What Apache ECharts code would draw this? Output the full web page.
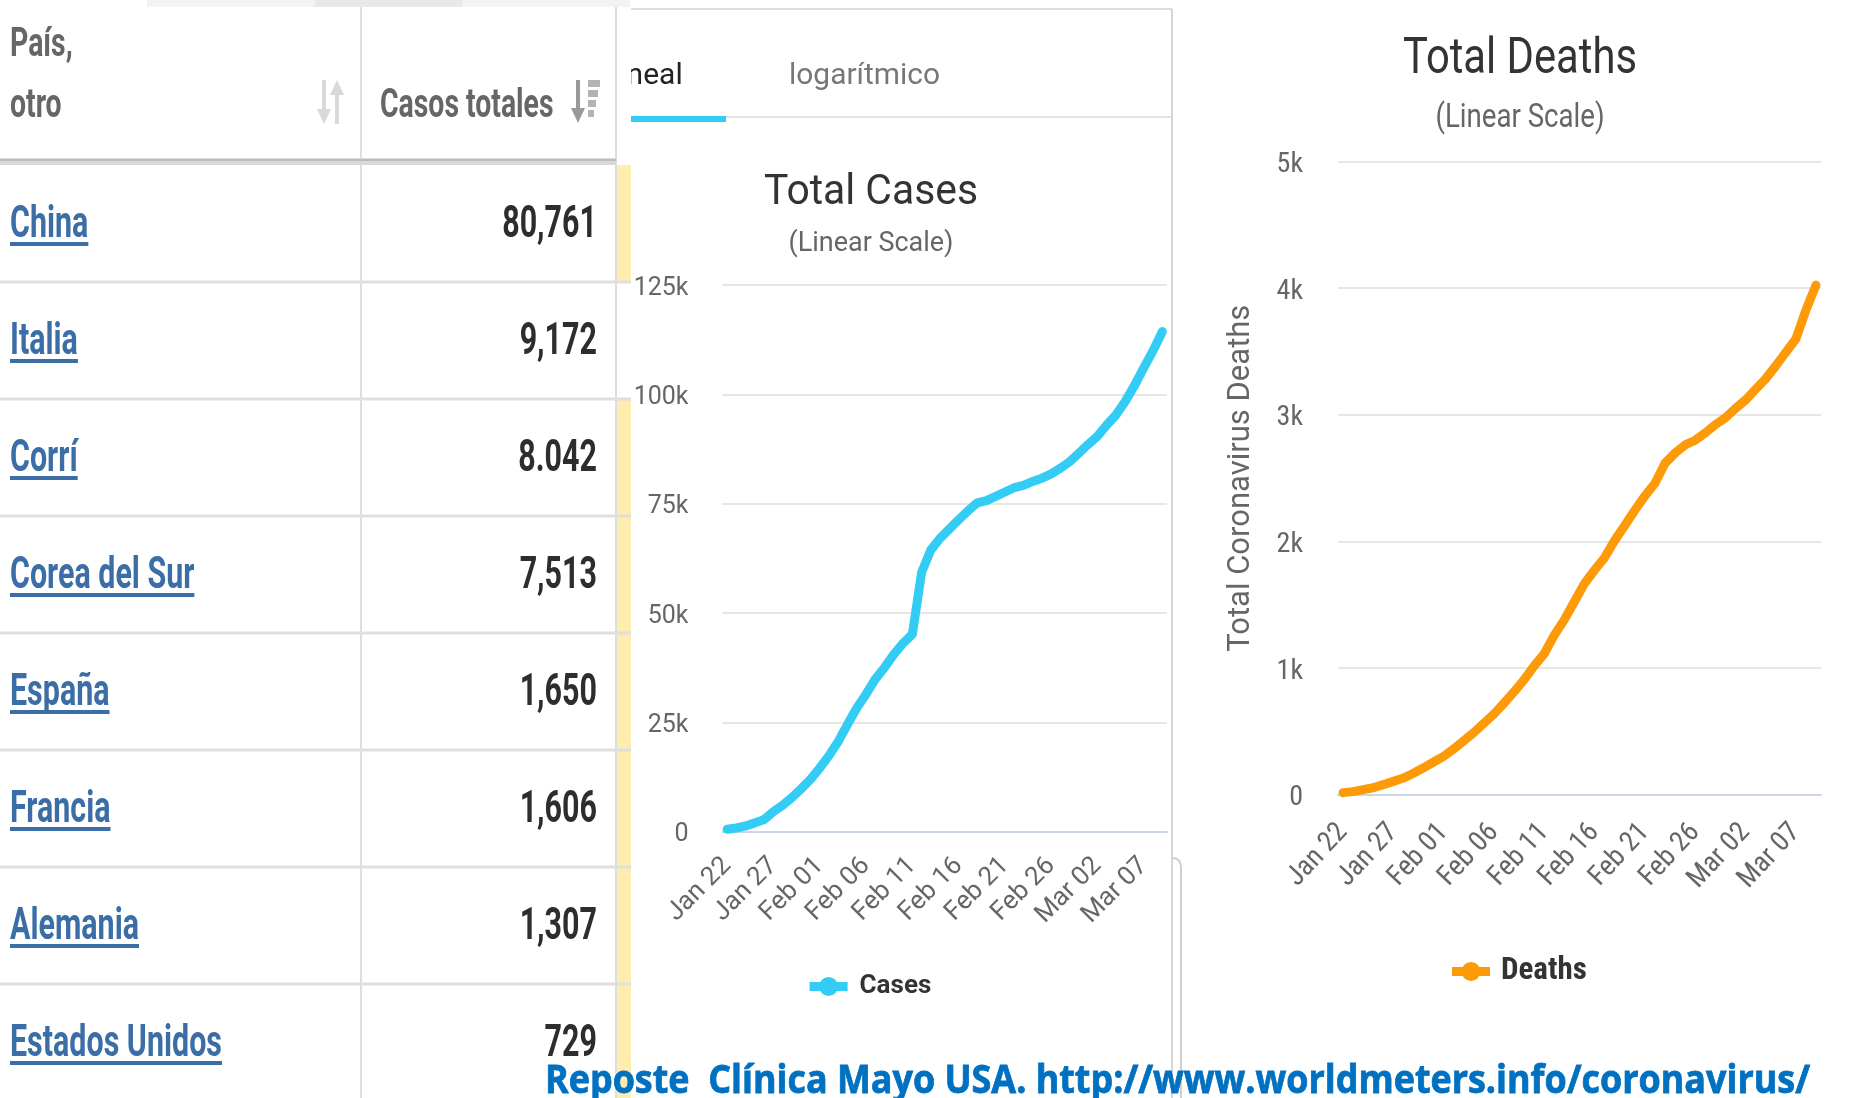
<!DOCTYPE html>
<html><head><meta charset="utf-8">
<script src="https://cdn.jsdelivr.net/npm/echarts@6/dist/echarts.min.js"></script>
<style>html,body{margin:0;padding:0;background:#fff}#c{width:1863px;height:1098px}</style>
</head><body><div id="c"></div>
<script>
// ---------- data ----------
const dates = ['Jan 22','Jan 23','Jan 24','Jan 25','Jan 26','Jan 27','Jan 28','Jan 29','Jan 30','Jan 31',
  'Feb 01','Feb 02','Feb 03','Feb 04','Feb 05','Feb 06','Feb 07','Feb 08','Feb 09','Feb 10',
  'Feb 11','Feb 12','Feb 13','Feb 14','Feb 15','Feb 16','Feb 17','Feb 18','Feb 19','Feb 20',
  'Feb 21','Feb 22','Feb 23','Feb 24','Feb 25','Feb 26','Feb 27','Feb 28','Feb 29',
  'Mar 01','Mar 02','Mar 03','Mar 04','Mar 05','Mar 06','Mar 07','Mar 08','Mar 09'];
const cases = [580,845,1317,2015,2800,4581,6058,7813,9823,11950,
  14553,17391,20630,24545,28266,31439,34876,37552,40553,43099,
  45134,59287,64438,67100,69197,71329,73332,75184,75700,76677,
  77673,78651,79205,80087,80828,81820,83112,84615,86604,
  88585,90443,93016,95314,98425,102050,106099,109991,114381];
const deaths = [17,25,41,56,80,106,132,170,213,259,
  304,362,426,492,565,638,724,813,910,1018,
  1115,1261,1383,1526,1669,1775,1873,2009,2126,2247,
  2360,2460,2618,2699,2763,2800,2858,2923,2977,
  3050,3117,3202,3285,3387,3494,3599,3827,4025];
const countries = ['China','Italia','Corrí','Corea del Sur','España','Francia','Alemania','Estados Unidos'];
const totalLabels = ['80,761','9,172','8.042','7,513','1,650','1,606','1,307','729'];
const yellowRows = [true,false,true,true,true,true,true,true];
const casesTicks = [0,25000,50000,75000,100000,125000];
const deathsTicks = [0,1000,2000,3000,4000,5000];
const footerText = 'Reposte  Clínica Mayo USA. http://www.worldmeters.info/coronavirus/';

// ---------- helpers ----------
const mctx = document.createElement('canvas').getContext('2d');
function textW(t, font){ mctx.font = font; return mctx.measureText(t).width; }
function fit(t, font, target){ return target / textW(t, font); }
function txt(o){
  const s = {text:o.text, font:o.font, fill:o.fill, align:o.align||'left', textAlign:o.align||'left',
    verticalAlign:'middle', textVerticalAlign:'middle', x:0, y:0};
  if (o.stroke) { s.stroke = o.stroke; s.lineWidth = o.lw || 1; }
  return {type:'text', x:o.x, y:o.y, scaleX:o.sx||1, scaleY:1, z:o.z||5, style:s, silent:true};
}
const kfmt = v => v === 0 ? '0' : (v/1000) + 'k';
const NARROW = "'Liberation Sans Narrow','Arial Narrow','Roboto Condensed',Roboto,sans-serif";
const DY = 2.5; // text baseline correction

// ---------- table graphics ----------
const G = [];
G.push(txt({text:'lineal', x:612, y:74+DY, font:'30px Roboto', fill:'#222', z:1}));
const lsx = fit('logarítmico','30px Roboto',151);
G.push(txt({text:'logarítmico', x:789, y:74+DY, font:'30px Roboto', fill:'#777', sx:lsx, z:1}));
G.push({type:'rect', shape:{x:631,y:116,width:95,height:6}, style:{fill:'#33CCF5'}, z:2, silent:true});
G.push({type:'line', shape:{x1:726,y1:117,x2:1172,y2:117}, style:{stroke:'#e3e3e3',lineWidth:2}, z:2, silent:true});
G.push({type:'line', shape:{x1:630,y1:9,x2:1172,y2:9}, style:{stroke:'#dcdcdc',lineWidth:2}, z:2, silent:true});
G.push({type:'line', shape:{x1:1172,y1:9,x2:1172,y2:1098}, style:{stroke:'#d6d6d6',lineWidth:2}, z:2, silent:true});
G.push({type:'polyline', shape:{points:[[1172,858],[1176,858.5],[1179,860.5],[1180.5,864],[1181,868],[1181,1098]]}, style:{stroke:'#cfcfcf',lineWidth:2,fill:null}, z:2, silent:true});
G.push({type:'rect', shape:{x:0,y:7,width:631,height:1091}, style:{fill:'#fff'}, z:3, silent:true});
G.push({type:'rect', shape:{x:147,y:0,width:483,height:7}, style:{fill:'#f3f3f3'}, z:3, silent:true});
G.push({type:'rect', shape:{x:315,y:0,width:147,height:7}, style:{fill:'#e8e8e8'}, z:3, silent:true});
const HB = 165, RH = 117;
countries.forEach((c,i)=>{
  if (yellowRows[i]) {
    const y0 = HB + RH*i, y1 = (i === countries.length-1) ? 1098 : HB + RH*(i+1);
    G.push({type:'rect', shape:{x:616,y:y0,width:15,height:y1-y0}, style:{fill:'#FFEDB0'}, z:4, silent:true});
  }
});
G.push({type:'line', shape:{x1:361,y1:7,x2:361,y2:1098}, style:{stroke:'#dedede',lineWidth:2}, z:4, silent:true});
G.push({type:'line', shape:{x1:616,y1:7,x2:616,y2:1098}, style:{stroke:'#dedede',lineWidth:2}, z:4, silent:true});
G.push({type:'rect', shape:{x:0,y:158,width:616,height:7}, style:{fill:'#d9d9d9'}, z:4, silent:true});
G.push({type:'line', shape:{x1:0,y1:160,x2:616,y2:160}, style:{stroke:'#bdbdbd',lineWidth:2}, z:4, silent:true});
for (let k=1;k<countries.length;k++){
  const y = HB + RH*k;
  G.push({type:'line', shape:{x1:0,y1:y,x2:631,y2:y}, style:{stroke:'#dfdfdf',lineWidth:3}, z:5, silent:true});
}
const HF = 'bold 40px Roboto';
const hsx = fit('Casos totales', HF, 173.5);
G.push(txt({text:'País,', x:10, y:43+DY, font:HF, fill:'#666', sx:hsx}));
G.push(txt({text:'otro', x:10, y:103+DY+1, font:HF, fill:'#666', sx:hsx}));
G.push(txt({text:'Casos totales', x:380, y:103+DY+1, font:HF, fill:'#666', sx:hsx}));
G.push({type:'rect', shape:{x:322,y:80,width:4,height:32}, style:{fill:'#d9d9d9'}, z:5, silent:true});
G.push({type:'polygon', shape:{points:[[317,109],[331,109],[324,124]]}, style:{fill:'#d9d9d9'}, z:5, silent:true});
G.push({type:'rect', shape:{x:335,y:92,width:4,height:32}, style:{fill:'#d9d9d9'}, z:5, silent:true});
G.push({type:'polygon', shape:{points:[[330,95],[344,95],[337,80]]}, style:{fill:'#d9d9d9'}, z:5, silent:true});
G.push({type:'rect', shape:{x:576,y:80,width:4,height:30}, style:{fill:'#999'}, z:5, silent:true});
G.push({type:'polygon', shape:{points:[[571,108],[585,108],[578,123]]}, style:{fill:'#999'}, z:5, silent:true});
[[12,80],[10,90],[8,100],[6,110]].forEach(b=>{
  G.push({type:'rect', shape:{x:588,y:b[1],width:b[0],height:7}, style:{fill:'#b3b3b3'}, z:5, silent:true});
});
const RF = 'bold 44px Roboto';
const rsx = fit('Estados Unidos', RF, 212);
countries.forEach((c,i)=>{
  const cy = HB + RH*(i+0.5) + DY;
  G.push(txt({text:c, x:10, y:cy, font:RF, fill:'#3b6ea6', sx:rsx, z:6}));
  G.push({type:'rect', shape:{x:10,y:cy+16,width:textW(c,RF)*rsx,height:4}, style:{fill:'#3b6ea6'}, z:6, silent:true});
  G.push(txt({text:totalLabels[i], x:597, y:cy, font:RF, fill:'#2d2d2d', sx:rsx, align:'right', z:6}));
});
const ctF = '43px Roboto', csF = '27px Roboto';
G.push(txt({text:'Total Cases', x:871, y:190+3.5, font:ctF, fill:'#333', sx:fit('Total Cases',ctF,214), align:'center'}));
G.push(txt({text:'(Linear Scale)', x:871, y:241+3.5, font:csF, fill:'#666', sx:fit('(Linear Scale)',csF,165), align:'center'}));
const dtF = '50px Roboto', dsF = '34px Roboto';
G.push(txt({text:'Total Deaths', x:1520, y:56+4.5, font:dtF, fill:'#333', sx:fit('Total Deaths',dtF,234), align:'center'}));
G.push(txt({text:'(Linear Scale)', x:1520, y:115+3, font:dsF, fill:'#666', sx:fit('(Linear Scale)',dsF,169), align:'center'}));
const fF = "bold 40px 'Open Sans', 'Liberation Sans', sans-serif";
G.push(txt({text:footerText, x:545, y:1082, font:fF, fill:'#0070C0', stroke:'#0070C0', lw:0.8, sx:fit(footerText,fF,1265), z:20}));

// ---------- chart ----------
const legendIcon = 'path://M0,5L38,5L38,14L0,14Z M19,0A9.5,9.5,0,1,1,19,19A9.5,9.5,0,1,1,19,0Z';
const chart = echarts.init(document.getElementById('c'));
chart.setOption({
  animation:false,
  backgroundColor:'#ffffff',
  grid:[
    {left:722.5, top:285, width:444.5, height:546.7},
    {left:1338, top:161.6, width:483, height:633.2}
  ],
  xAxis:[
    {gridIndex:0, type:'category', data:dates, boundaryGap:true,
     axisTick:{show:false}, splitLine:{show:false},
     axisLine:{show:true, lineStyle:{color:'#ccd6eb', width:2}},
     axisLabel:{interval:4, rotate:45, margin:30, color:'#666', fontSize:26, fontFamily:'Roboto'}},
    {gridIndex:1, type:'category', data:dates, boundaryGap:true,
     axisTick:{show:false}, splitLine:{show:false},
     axisLine:{show:true, lineStyle:{color:'#ccd6eb', width:2}},
     axisLabel:{interval:4, rotate:47, margin:33, color:'#666', fontSize:28, fontFamily:NARROW}}
  ],
  yAxis:[
    {gridIndex:0, type:'value', min:casesTicks[0], max:casesTicks[casesTicks.length-1], interval:casesTicks[1]-casesTicks[0],
     axisLine:{show:false}, axisTick:{show:false},
     splitLine:{show:true, lineStyle:{color:'#e6e6e6', width:2}},
     axisLabel:{formatter:kfmt, margin:34, color:'#666', fontSize:25, fontFamily:'Roboto', verticalAlign:'top', lineHeight:7}},
    {gridIndex:1, type:'value', min:deathsTicks[0], max:deathsTicks[deathsTicks.length-1], interval:deathsTicks[1]-deathsTicks[0],
     axisLine:{show:false}, axisTick:{show:false},
     splitLine:{show:true, lineStyle:{color:'#e6e6e6', width:2}},
     axisLabel:{formatter:kfmt, margin:35, color:'#666', fontSize:28, fontFamily:NARROW, verticalAlign:'top', lineHeight:7},
     name:'Total Coronavirus Deaths', nameLocation:'middle', nameRotate:90, nameGap:81,
     nameTextStyle:{color:'#666', fontSize:31, fontFamily:'Roboto'}}
  ],
  legend:[
    {data:['Cases'], left:809.6, top:973.5, padding:0, icon:legendIcon, itemWidth:38, itemHeight:19,
     textStyle:{color:'#333', fontSize:26, fontWeight:'bold', fontFamily:'Roboto', padding:[0,0,0,7]}, selectedMode:false},
    {data:['Deaths'], left:1452, top:956, padding:0, icon:legendIcon, itemWidth:38, itemHeight:19,
     textStyle:{color:'#333', fontSize:31, fontWeight:'bold', fontFamily:NARROW, padding:[0,0,0,6]}, selectedMode:false}
  ],
  series:[
    {name:'Cases', type:'line', xAxisIndex:0, yAxisIndex:0, data:cases, showSymbol:false, symbol:'circle',
     lineStyle:{color:'#33CCF5', width:9, cap:'round', join:'round'}, itemStyle:{color:'#33CCF5'},
     emphasis:{disabled:true}, z:3},
    {name:'Deaths', type:'line', xAxisIndex:1, yAxisIndex:1, data:deaths, showSymbol:false, symbol:'circle',
     lineStyle:{color:'#FD9A08', width:9, cap:'round', join:'round'}, itemStyle:{color:'#FD9A08'},
     emphasis:{disabled:true}, z:3}
  ],
  graphic:{elements:G}
});
</script></body></html>
